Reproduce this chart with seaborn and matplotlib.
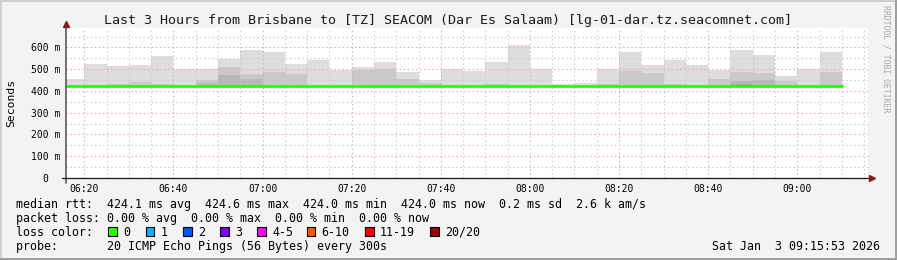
import matplotlib
matplotlib.use("Agg")
import matplotlib.pyplot as plt
import seaborn as sns
import numpy as np
import pandas as pd
from matplotlib.patches import Rectangle

# ---------------- data ----------------
slot_start = ["06:15", "06:20", "06:25", "06:30", "06:35", "06:40", "06:45", "06:50", "06:55",
              "07:00", "07:05", "07:10", "07:15", "07:20", "07:25", "07:30", "07:35", "07:40",
              "07:45", "07:50", "07:55",
              "08:00", "08:05", "08:10", "08:15", "08:20", "08:25", "08:30", "08:35", "08:40",
              "08:45", "08:50", "08:55",
              "09:00", "09:05"]
smoke_min = [423, 423, 423, 423, 423, 423, 423, 423, 423,
             423, 423, 423, 423, 423, 423, 423, 423, 423, 423, 423, 423,
             423, 423, 423, 423, 423, 423, 423, 423, 423, 423, 423, 423,
             423, 423]
smoke_max = [456, 522, 513, 518, 560, 499, 500, 549, 588,
             578, 522, 541, 496, 510, 534, 488, 450, 503, 492, 534, 611,
             500, 432, 437, 500, 579, 520, 543, 518, 496, 588, 564, 467,
             502, 578]
nan = float("nan")
smoke_mid = [nan, 428, 431, 440, 431, nan, 452, 510, 477,
             487, 477, nan, nan, 498, 501, 455, 437, nan, nan, 434, nan,
             nan, nan, nan, 430, 492, 483, 434, 429, 453, 487, 481, 445,
             nan, 487]
smoke_dark = [nan, nan, nan, nan, nan, nan, 437, 473, 457,
              nan, nan, nan, nan, nan, nan, nan, nan, nan, nan, nan, nan,
              nan, nan, nan, nan, nan, nan, nan, nan, nan, 448, 450, nan,
              nan, nan]
smoke_darkest = [nan, nan, nan, nan, nan, nan, nan, nan, nan,
                 nan, nan, nan, nan, nan, nan, nan, nan, nan, nan, nan, nan,
                 nan, nan, nan, nan, nan, nan, nan, nan, nan, 431, nan, nan,
                 nan, nan]
median_rtt = [424.1, 424.1, 424.0, 424.1, 424.2, 424.0, 424.1, 424.3, 424.2,
              424.1, 424.0, 424.1, 424.0, 424.2, 424.1, 424.0, 424.1, 424.0, 424.1, 424.0, 424.6,
              424.1, 424.0, 424.0, 424.1, 424.2, 424.1, 424.0, 424.1, 424.0, 424.2, 424.1, 424.0,
              424.1, 424.0]
data_end = "09:10"
x_tick_labels = ["06:20", "06:40", "07:00", "07:20", "07:40", "08:00", "08:20", "08:40", "09:00"]
y_tick_values = [0, 100, 200, 300, 400, 500, 600]
y_tick_labels = ["0  ", "100 m", "200 m", "300 m", "400 m", "500 m", "600 m"]
loss_labels = ["0", "1", "2", "3", "4-5", "6-10", "11-19", "20/20"]
loss_colors = ["#26ff00", "#00b8ff", "#0059ff", "#7e00ff", "#ff00ff", "#ff5500", "#ff0000", "#a10000"]
title = "Last 3 Hours from Brisbane to [TZ] SEACOM (Dar Es Salaam) [lg-01-dar.tz.seacomnet.com]"
legend_rows = [
    "median rtt:  424.1 ms avg  424.6 ms max  424.0 ms min  424.0 ms now  0.2 ms sd  2.6 k am/s",
    "packet loss: 0.00 % avg  0.00 % max  0.00 % min  0.00 % now",
    "loss color:",
    "probe:       20 ICMP Echo Pings (56 Bytes) every 300s",
]
stamp = "Sat Jan  3 09:15:53 2026"


def tmin(s):
    h, m = s.split(":")
    return int(h) * 60 + int(m)


# ---------------- figure ----------------
sns.set_theme(style="white")
MONO = ["DejaVu Sans Mono"]
plt.rcParams["font.family"] = MONO

W, H = 897, 260
fig = plt.figure(figsize=(W / 100, H / 100), dpi=100)
fig.patch.set_facecolor("#f3f3f3")

L, R, T, B = 66, 868, 27.7, 178
ax = fig.add_axes([L / W, 1 - B / H, (R - L) / W, (B - T) / H])
ax.set_facecolor("white")

x0 = np.array([tmin(s) for s in slot_start], float)
base = np.array(smoke_min, float)
layers = [(smoke_max, "#dddddd"), (smoke_mid, "#c9c9c9"),
          (smoke_dark, "#b7b7b7"), (smoke_darkest, "#a8a8a8")]
for vals, col in layers:
    v = np.array(vals, float)
    m = ~np.isnan(v)
    ax.bar(x0[m], v[m] - base[m], bottom=base[m], width=5, align="edge",
           color=col, linewidth=0, zorder=1)

med_df = pd.DataFrame({"t": list(x0) + [tmin(data_end)],
                       "rtt": median_rtt + [median_rtt[-1]]})
sns.lineplot(data=med_df, x="t", y="rtt", drawstyle="steps-post", color="#22ff00",
             linewidth=2.0, estimator=None, ax=ax, zorder=4)

t_end = tmin("09:15") + 53 / 60
ax.set_xlim(t_end - 180, t_end)
ax.set_ylim(0, 691)

ax.set_xticks([tmin(s) for s in x_tick_labels])
ax.set_xticklabels(x_tick_labels)
ax.set_xticks(np.arange(tmin("06:20"), t_end, 5), minor=True)
ax.set_yticks(y_tick_values)
ax.set_yticklabels(y_tick_labels)
ax.set_yticks(np.arange(50, 691, 50), minor=True)

ax.set_axisbelow(False)
ax.grid(which="major", color="#f2a0a0", linestyle=(0, (1.3, 2.6)), linewidth=0.75, zorder=2)
ax.grid(which="minor", color="#c8c8c8", linestyle=(0, (1.3, 2.6)), linewidth=0.75, zorder=2)

ax.tick_params(axis="both", which="major", length=2.2, width=0.7, color="#333333",
               direction="out", labelsize=7, labelcolor="black", pad=1.8)
ax.tick_params(axis="both", which="minor", length=1.5, width=0.7, color="#999999",
               direction="out")
for lbl in ax.get_xticklabels() + ax.get_yticklabels():
    lbl.set_family(MONO)

for sp in ax.spines.values():
    sp.set_visible(False)

ax.set_xlabel("")
ax.set_ylabel("Seconds", fontsize=8.2, family=MONO, color="black")
ax.yaxis.set_label_coords((16 - L) / (R - L), 0.5)

# axis lines with arrows
h = B - T
wpx = R - L
ax.plot([0, 0], [(B - 183) / h, (B - 24) / h], color="#5a5a5a", lw=1.2,
        transform=ax.transAxes, clip_on=False, zorder=5)
ax.plot([(62 - L) / wpx, (870 - L) / wpx], [0, 0], color="#1a1a1a", lw=0.9,
        transform=ax.transAxes, clip_on=False, zorder=5)
ax.plot([0], [(B - 23.5) / h], marker="^", ms=4.2, color="#8b1a1a", mec="#8b1a1a",
        transform=ax.transAxes, clip_on=False, zorder=6)
ax.plot([(871.5 - L) / wpx], [0], marker=">", ms=4.2, color="#8b1a1a", mec="#8b1a1a",
        transform=ax.transAxes, clip_on=False, zorder=6)


def fx(x):
    return x / W


def fy(y):
    return 1 - y / H


fig.text(fx(447.5), fy(24.3), title, ha="center", va="baseline", fontsize=9.6,
         family=MONO, color="#1a1a1a")

baselines = [207.7, 221.7, 235.7, 249.7]
for txt, yb in zip(legend_rows, baselines):
    fig.text(fx(16), fy(yb), txt, ha="left", va="baseline", fontsize=8.4,
             family=MONO, color="black")

box_x = [108.3, 145.7, 183.3, 220, 257.3, 306.7, 365, 430]
for bx, lab, col in zip(box_x, loss_labels, loss_colors):
    fig.patches.append(Rectangle((fx(bx), fy(235.5)), 8.5 / W, 8.5 / H,
                                 transform=fig.transFigure, facecolor=col,
                                 edgecolor="black", linewidth=0.8))
    fig.text(fx(bx + 15), fy(235.7), lab, ha="left", va="baseline", fontsize=8.4,
             family=MONO, color="black")

fig.text(fx(880), fy(249.7), stamp, ha="right", va="baseline", fontsize=8.4,
         family=MONO, color="black")

fig.text(fx(886), fy(5), "RRDTOOL / TOBI OETIKER", rotation=270, ha="center", va="top",
         fontsize=5.9, family=MONO, color="#a8a8a8")

# 3D frame
fig.patches.append(Rectangle((0, fy(2)), 1, 2 / H, transform=fig.transFigure,
                             facecolor="#cfcfcf", edgecolor="none"))
fig.patches.append(Rectangle((0, 0), 2 / W, 1, transform=fig.transFigure,
                             facecolor="#cfcfcf", edgecolor="none"))
fig.patches.append(Rectangle((0, 0), 1, 2.5 / H, transform=fig.transFigure,
                             facecolor="#9e9e9e", edgecolor="none"))
fig.patches.append(Rectangle((1 - 2 / W, 0), 2 / W, 1, transform=fig.transFigure,
                             facecolor="#9e9e9e", edgecolor="none"))

fig.savefig("out.png", dpi=100, facecolor=fig.get_facecolor())
